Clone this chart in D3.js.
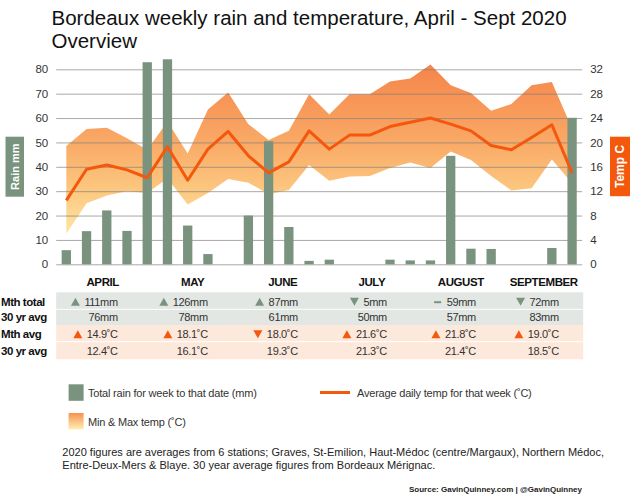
<!DOCTYPE html>
<html><head><meta charset="utf-8">
<script src="https://cdn.jsdelivr.net/npm/d3@7"></script>
<style>
body{margin:0;background:#fff}
svg{display:block;font-family:"Liberation Sans",Arial,Helvetica,sans-serif}
</style>
</head><body>
<svg id="c" width="630" height="501"></svg>
<script>
// ---------- DATA ----------
const weeks = [1,2,3,4,5,6,7,8,9,10,11,12,13,14,15,16,17,18,19,20,21,22,23,24,25,26];
const rainMm = [5.8,13.6,22.1,13.7,82.9,84.1,15.9,4.2,0,20.0,50.5,15.3,1.4,1.9,0,0,1.9,1.6,1.6,44.5,6.4,6.3,0,0,6.7,60.1];
const avgTemp = [10.5,15.6,16.3,15.5,14.2,19.3,13.8,18.9,21.8,17.8,15.0,16.8,21.9,18.9,21.2,21.2,22.6,23.3,24.0,23.0,21.9,19.5,18.8,20.8,22.9,15.0];
const maxTemp = [19.4,22.2,22.4,20.7,18.8,23.4,18.2,25.4,28.2,23.0,20.4,21.9,27.9,24.6,27.9,27.9,30.0,30.5,32.8,29.4,28.1,25.2,26.3,29.4,29.9,22.3];
const minTemp = [5.0,10.0,11.3,12.0,11.7,14.1,9.8,11.7,14.0,13.4,11.5,12.2,16.3,13.7,14.4,14.5,15.8,16.7,15.8,18.5,17.1,14.5,12.1,12.5,17.2,13.3];
const rainTicks = [0,10,20,30,40,50,60,70,80];
const tempTicks = [0,4,8,12,16,20,24,28,32];

const months = ["APRIL","MAY","JUNE","JULY","AUGUST","SEPTEMBER"];
const monthWeek = [2.3,6.75,11.2,15.6,20.0,24.1];
const rainTotal = [111,126,87,5,59,72];
const rain30yr = [76,78,61,50,57,83];
const rainTrend = ["up","up","up","down","same","down"];
const tempAvgMonth = [14.9,18.1,18.0,21.6,21.8,19.0];
const temp30yr = [12.4,16.1,19.3,21.3,21.4,18.5];
const tempTrend = ["up","up","down","up","up","up"];
const rowLabels = ["Mth total","30 yr avg","Mth avg","30 yr avg"];

// ---------- STYLE ----------
const GREEN = "#7a937e", ORANGE = "#f4580d", TXT = "#222";
const svg = d3.select("#c");
const L = 56.2, R = 582.2, Y0 = 264.3, Y1 = 69.3;

const x = d3.scaleBand().domain(weeks).range([L, R]).paddingInner(0.54).paddingOuter(0.27);
const bw = x.bandwidth();
const cx = w => x(w) + bw / 2;
const wpos = d3.scaleLinear().domain([0, 26]).range([L, R]);
const yR = d3.scaleLinear().domain([0, 80]).range([Y0, Y1]);
const yT = d3.scaleLinear().domain([0, 32]).range([Y0, Y1]);

const defs = svg.append("defs");
const g1 = defs.append("linearGradient").attr("id", "band").attr("gradientUnits", "userSpaceOnUse")
  .attr("x1", 0).attr("x2", 0).attr("y1", yT(33)).attr("y2", yT(5));
[[0,"#f5844a"],[0.45,"#f9a865"],[0.75,"#fcc880"],[1,"#fee6a4"]].forEach(s =>
  g1.append("stop").attr("offset", s[0]).attr("stop-color", s[1]));
const g2 = defs.append("linearGradient").attr("id", "lg").attr("x1", 0).attr("x2", 0).attr("y1", 0).attr("y2", 1);
[[0,"#f7914f"],[1,"#fff0b4"]].forEach(s => g2.append("stop").attr("offset", s[0]).attr("stop-color", s[1]));

// Title
svg.append("text").attr("x", 51.5).attr("y", 25).attr("font-size", 20.5).attr("fill", "#111")
  .text("Bordeaux weekly rain and temperature, April - Sept 2020");
svg.append("text").attr("x", 51.5).attr("y", 47.7).attr("font-size", 20.5).attr("fill", "#111").text("Overview");

// Band
const tw = weeks.map((w, i) => ({w, mn: minTemp[i], mx: maxTemp[i], av: avgTemp[i], r: rainMm[i]}));
svg.append("path").datum(tw).attr("fill", "url(#band)")
  .attr("d", d3.area().x(d => cx(d.w)).y0(d => yT(d.mn)).y1(d => yT(d.mx)));

// Grid / axes
const ga = svg.append("g").attr("transform", `translate(${L},0)`)
  .call(d3.axisLeft(yR).tickValues(rainTicks).tickSize(-(R - L)).tickPadding(8));
ga.select(".domain").remove();
ga.selectAll("line").attr("stroke", "#7d7d7d").attr("stroke-opacity", 0.75).attr("stroke-width", 0.9);
ga.selectAll("text").attr("font-size", 11.5).attr("fill", "#333").attr("font-family", "Liberation Sans, Arial");
const gb = svg.append("g").attr("transform", `translate(${R},0)`)
  .call(d3.axisRight(yT).tickValues(tempTicks).tickSize(0).tickPadding(8));
gb.select(".domain").remove();
gb.selectAll("text").attr("font-size", 11.5).attr("fill", "#333").attr("font-family", "Liberation Sans, Arial");

// Bars
svg.append("g").selectAll("rect").data(tw).join("rect")
  .attr("x", d => x(d.w)).attr("width", bw)
  .attr("y", d => yR(d.r)).attr("height", d => Y0 - yR(d.r)).attr("fill", GREEN);

// Avg line
svg.append("path").datum(tw).attr("fill", "none").attr("stroke", ORANGE).attr("stroke-width", 3)
  .attr("stroke-linejoin", "round").attr("d", d3.line().x(d => cx(d.w)).y(d => yT(d.av)));

// Side labels
svg.append("rect").attr("x", 5.5).attr("y", 136.7).attr("width", 18.5).attr("height", 60).attr("fill", GREEN);
svg.append("text").attr("transform", "translate(18.8,166.7) rotate(-90)").attr("text-anchor", "middle")
  .attr("font-size", 11).attr("font-weight", "bold").attr("fill", "#fff").text("Rain mm");
svg.append("rect").attr("x", 610).attr("y", 136.7).attr("width", 20).attr("height", 59.5).attr("fill", ORANGE);
svg.append("text").attr("transform", "translate(624.3,166.5) rotate(-90)").attr("text-anchor", "middle")
  .attr("font-size", 12).attr("font-weight", "bold").attr("fill", "#fff").text("Temp C");

// Table
svg.append("rect").attr("x", L).attr("y", 292.3).attr("width", 527).attr("height", 32.7).attr("fill", "#e2e7e3");
svg.append("rect").attr("x", L).attr("y", 325).attr("width", 527).attr("height", 34.3).attr("fill", "#fde8dc");
[309.3, 341.7].forEach(yy => svg.append("line").attr("x1", L).attr("x2", L + 527).attr("y1", yy).attr("y2", yy)
  .attr("stroke", "#fff").attr("stroke-width", 1));

svg.append("g").selectAll("text").data(months).join("text")
  .attr("x", (d, i) => wpos(monthWeek[i])).attr("y", 285.7).attr("text-anchor", "middle")
  .attr("font-size", 11.5).attr("font-weight", "bold").attr("letter-spacing", -0.4).attr("fill", "#111").text(d => d);

const rowY = [305.7, 320.7, 338.3, 354.7];
svg.append("g").selectAll("text").data(rowLabels).join("text")
  .attr("x", 1).attr("y", (d, i) => rowY[i]).attr("font-size", 11.5).attr("font-weight", "bold")
  .attr("letter-spacing", -0.45).attr("fill", "#111").text(d => d);

function cell(i, row, str, trend, col) {
  const xr = wpos(monthWeek[i]) + 15;
  const t = svg.append("text").attr("x", xr).attr("y", rowY[row]).attr("text-anchor", "end")
    .attr("font-size", 11).attr("letter-spacing", -0.35).attr("fill", "#333").text(str);
  if (!trend) return;
  const w = t.node().getComputedTextLength();
  const tx = xr - w - 4.5, ty = rowY[row] - 4;
  if (trend === "up") svg.append("path").attr("d", `M${tx-9},${ty+4}L${tx},${ty+4}L${tx-4.5},${ty-4}Z`).attr("fill", col);
  else if (trend === "down") svg.append("path").attr("d", `M${tx-9},${ty-4}L${tx},${ty-4}L${tx-4.5},${ty+4}Z`).attr("fill", col);
  else svg.append("rect").attr("x", tx - 8).attr("y", ty - 0.5).attr("width", 7).attr("height", 2).attr("fill", col);
}
months.forEach((m, i) => {
  cell(i, 0, rainTotal[i] + "mm", rainTrend[i], GREEN);
  cell(i, 1, rain30yr[i] + "mm");
  cell(i, 2, tempAvgMonth[i].toFixed(1) + "˚C", tempTrend[i], ORANGE);
  cell(i, 3, temp30yr[i].toFixed(1) + "˚C");
});

// Legend
svg.append("rect").attr("x", 68.6).attr("y", 384.3).attr("width", 15).attr("height", 16.5).attr("fill", GREEN);
svg.append("text").attr("x", 88).attr("y", 397).attr("font-size", 11).attr("letter-spacing", -0.2).attr("fill", "#333")
  .text("Total rain for week to that date (mm)");
svg.append("line").attr("x1", 320).attr("x2", 350).attr("y1", 392.5).attr("y2", 392.5).attr("stroke", ORANGE).attr("stroke-width", 3);
svg.append("text").attr("x", 357).attr("y", 397).attr("font-size", 11).attr("letter-spacing", -0.2).attr("fill", "#333")
  .text("Average daily temp for that week (˚C)");
svg.append("rect").attr("x", 68.6).attr("y", 413).attr("width", 15).attr("height", 16.5).attr("fill", "url(#lg)");
svg.append("text").attr("x", 88).attr("y", 425.5).attr("font-size", 11).attr("letter-spacing", -0.2).attr("fill", "#333")
  .text("Min & Max temp (˚C)");

// Footer
svg.append("text").attr("x", 62.3).attr("y", 456).attr("font-size", 11).attr("fill", TXT)
  .text("2020 figures are averages from 6 stations; Graves, St-Emilion, Haut-Médoc (centre/Margaux), Northern Médoc,");
svg.append("text").attr("x", 62.3).attr("y", 468.5).attr("font-size", 11).attr("fill", TXT)
  .text("Entre-Deux-Mers & Blaye. 30 year average figures from Bordeaux Mérignac.");
svg.append("text").attr("x", 582).attr("y", 492).attr("text-anchor", "end").attr("font-size", 8).attr("font-weight", "bold").attr("fill", TXT)
  .text("Source: GavinQuinney.com  |  @GavinQuinney");
</script>
</body></html>
